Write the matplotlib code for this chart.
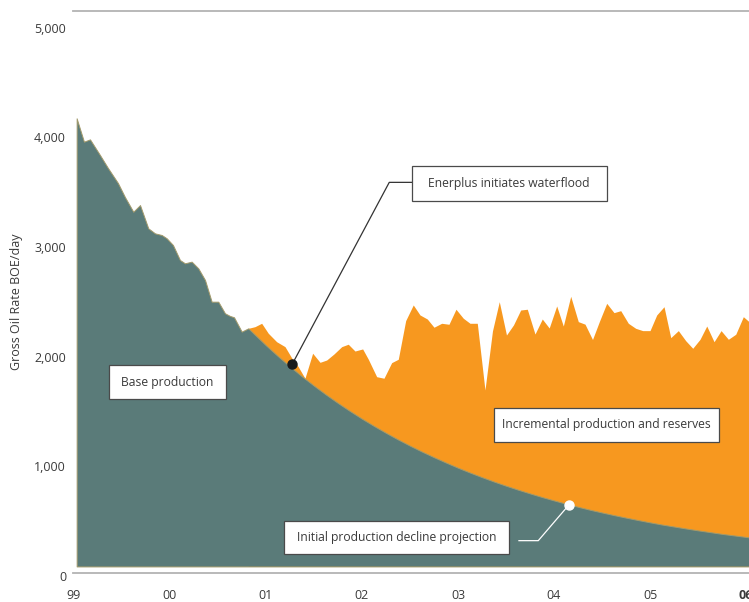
import matplotlib.pyplot as plt
import matplotlib.transforms as mtransforms
from matplotlib.patches import Rectangle

plt.rcParams['font.family'] = ['Open Sans', 'DejaVu Sans']

# ---------- DATA ----------
# base production, actual (year, BOE/day)
base_years = [1999.028, 1999.104, 1999.167, 1999.271, 1999.354, 1999.458, 1999.531,
              1999.618, 1999.688, 1999.774, 1999.844, 1999.914, 1999.966, 2000.031,
              2000.104, 2000.156, 2000.226, 2000.295, 2000.365, 2000.434, 2000.503,
              2000.573, 2000.625, 2000.667, 2000.747]
base_rate = [4086, 3873, 3894, 3751, 3633, 3496, 3368,
             3234, 3295, 3083, 3037, 3022, 2992, 2931,
             2794, 2764, 2779, 2718, 2612, 2414, 2414,
             2308, 2284, 2272, 2141]

# initial production decline projection
decline_years = [2000.816, 2001.0, 2001.125, 2001.25, 2001.375, 2001.5, 2001.625,
                 2001.75, 2001.875, 2002.0, 2002.125, 2002.25, 2002.375, 2002.5,
                 2002.625, 2002.75, 2002.875, 2003.0, 2003.125, 2003.25, 2003.375,
                 2003.5, 2003.625, 2003.75, 2003.875, 2004.0, 2004.125, 2004.25,
                 2004.375, 2004.5, 2004.625, 2004.75, 2004.875, 2005.0, 2005.125,
                 2005.25, 2005.375, 2005.5, 2005.625, 2005.75, 2005.875, 2006.0,
                 2006.031]
decline_rate = [2171, 2016, 1917, 1823, 1733, 1648, 1567,
                1490, 1417, 1347, 1281, 1218, 1158, 1101,
                1047, 996, 947, 900, 856, 814, 774,
                736, 700, 666, 633, 602, 572, 544,
                517, 492, 468, 445, 423, 402, 382,
                364, 346, 329, 313, 297, 283, 269,
                265]

# total production after waterflood
total_years = [2000.816, 2000.885, 2000.955, 2001.024, 2001.111, 2001.198, 2001.268,
               2001.336, 2001.406, 2001.486, 2001.563, 2001.632, 2001.708, 2001.789,
               2001.857, 2001.927, 2002.007, 2002.066, 2002.153, 2002.229, 2002.309,
               2002.378, 2002.455, 2002.534, 2002.604, 2002.680, 2002.750, 2002.830,
               2002.906, 2002.979, 2003.055, 2003.125, 2003.201, 2003.281, 2003.359,
               2003.430, 2003.505, 2003.578, 2003.653, 2003.722, 2003.802, 2003.878,
               2003.950, 2004.028, 2004.097, 2004.174, 2004.253, 2004.323, 2004.401,
               2004.472, 2004.549, 2004.625, 2004.695, 2004.774, 2004.851, 2004.924,
               2005.000, 2005.070, 2005.146, 2005.216, 2005.295, 2005.372, 2005.445,
               2005.521, 2005.591, 2005.667, 2005.740, 2005.816, 2005.893, 2005.972,
               2006.031]
total_rate = [2171, 2186, 2217, 2126, 2049, 2004, 1901,
              1821, 1716, 1944, 1861, 1882, 1937, 2004,
              2026, 1964, 1983, 1889, 1730, 1716, 1858,
              1889, 2241, 2384, 2293, 2256, 2181, 2217,
              2208, 2345, 2263, 2217, 2217, 1609, 2147,
              2414, 2110, 2202, 2338, 2345, 2119, 2256,
              2174, 2375, 2192, 2463, 2232, 2209, 2069,
              2232, 2399, 2314, 2332, 2217, 2171, 2150,
              2150, 2293, 2368, 2086, 2150, 2058, 1989,
              2071, 2192, 2049, 2150, 2071, 2117, 2277,
              2232]

year_ticks = [1999, 2000, 2001, 2002, 2003, 2004, 2005, 2006]
year_labels = ['99', '00', '01', '02', '03', '04', '05', '06']
rate_ticks = [0, 1000, 2000, 3000, 4000, 5000]
rate_labels = ['0', '1,000', '2,000', '3,000', '4,000', '5,000']

TEAL = '#5a7b79'
ORANGE = '#f7981f'
KHAKI = '#a39a6b'
TEXT = '#3a3a3a'

# ---------- CHART ----------
fig = plt.figure(figsize=(7.49, 6.02), dpi=100, facecolor='white')
ax = fig.add_axes([73 / 749, 0.0487, 676 / 749, 0.9335])

teal_x = base_years + decline_years
teal_y = base_rate + decline_rate

ax.fill_between(total_years, 0, total_rate, color=ORANGE, linewidth=0, zorder=1)
ax.fill_between(teal_x, 0, teal_y, facecolor=TEAL, edgecolor=KHAKI, linewidth=0.7, zorder=2)

ax.set_xlim(1998.99, 2006.031)
ax.set_ylim(-57, 5067)

for side in ['left', 'right']:
    ax.spines[side].set_visible(False)
for side in ['top', 'bottom']:
    ax.spines[side].set_color('#b3b3b3')
    ax.spines[side].set_linewidth(1.3)

ax.set_xticks(year_ticks)
ax.set_xticklabels(year_labels, fontsize=9, color=TEXT)
ax.get_xticklabels()[-1].set_fontweight('bold')
ax.set_yticks(rate_ticks)
ax.set_yticklabels(rate_labels, fontsize=9, color=TEXT)
ax.tick_params(axis='both', length=0)
ax.tick_params(axis='x', pad=11.5)
ax.tick_params(axis='y', pad=5)

# labels in the original sit a little below their values
shift = mtransforms.ScaledTranslation(0, -9.5 / 100, fig.dpi_scale_trans)
for lab in ax.get_yticklabels():
    lab.set_transform(lab.get_transform() + shift)

fig.text(17 / 749, 1 - 302 / 602, 'Gross Oil Rate BOE/day', rotation=90,
         ha='center', va='center', fontsize=9, color=TEXT)

# ---------- ANNOTATIONS ----------
def label_box(x0, y0, w, h, text):
    ax.add_patch(Rectangle((x0, y0), w, h, facecolor='white', edgecolor='#4a4a4a',
                           linewidth=0.9, zorder=5))
    ax.text(x0 + w / 2, y0 + h / 2, text, ha='center', va='center',
            fontsize=8.7, color=TEXT, zorder=6)

label_box(2002.518, 3335, 2.031, 316, 'Enerplus initiates waterflood')
label_box(1999.368, 1524, 1.216, 313, 'Base production')
label_box(2003.378, 1138, 2.344, 304, 'Incremental production and reserves')
label_box(2001.191, 114, 2.344, 304, 'Initial production decline projection')

ax.plot([2002.518, 2002.284, 2001.274], [3502, 3502, 1845], color='#333333',
        linewidth=0.9, zorder=4)
ax.plot([2001.274], [1845], 'o', color='#1a1a1a', markersize=6.5, zorder=4)

ax.plot([2003.635, 2003.836, 2004.156], [235, 235, 562], color='white',
        linewidth=0.9, zorder=4)
ax.plot([2004.156], [562], 'o', color='white', markersize=6.5, zorder=4)

plt.savefig('out.png', dpi=100, facecolor='white')
